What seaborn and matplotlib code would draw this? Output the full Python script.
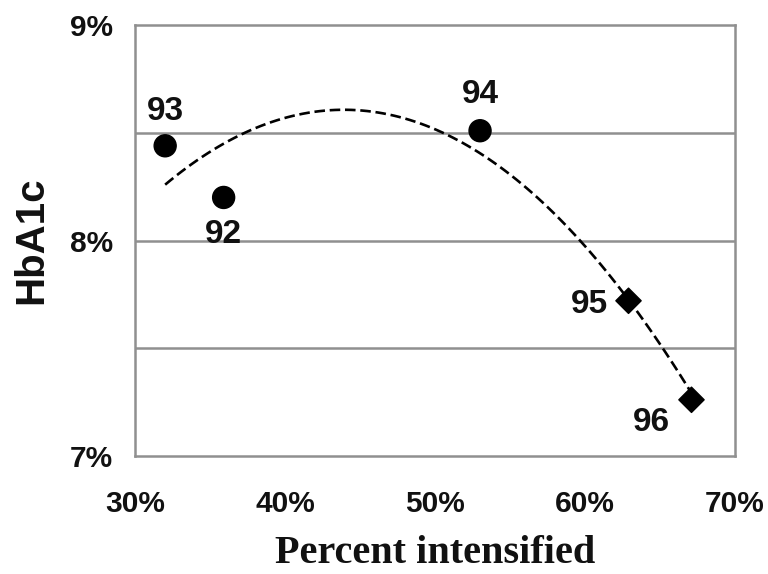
import matplotlib.pyplot as plt
import pandas as pd
import seaborn as sns

# values
years = ['93', '92', '94', '95', '96']
pct_intensified = [32.0, 35.9, 53.0, 62.9, 67.1]
hba1c = [8.44, 8.20, 8.51, 7.72, 7.26]
shape = ['circle', 'circle', 'circle', 'diamond', 'diamond']

df = pd.DataFrame({'year': years, 'pct': pct_intensified, 'hba1c': hba1c, 'shape': shape})

sns.set_style('white')
plt.rcParams['font.family'] = ['Liberation Sans', 'DejaVu Sans']

fig = plt.figure(figsize=(7.68, 5.74), dpi=100)
ax = fig.add_axes([0.176, 0.206, 0.781, 0.750])

# horizontal grid lines
for yv in [7.5, 8.0, 8.5]:
    ax.axhline(yv, color='#909090', lw=1.8, zorder=0)

# quadratic trend line
sns.regplot(data=df, x='pct', y='hba1c', order=2, ci=None, scatter=False, ax=ax,
            line_kws={'color': 'black', 'lw': 1.9, 'dashes': (4, 1.8)})

sns.scatterplot(data=df, x='pct', y='hba1c', style='shape', markers={'circle': 'o', 'diamond': 'D'},
                size='shape', sizes={'circle': 250, 'diamond': 165}, color='black',
                edgecolor='black', legend=False, ax=ax, zorder=3)

# point labels
offsets = {'93': (0, 25), '92': (0, -27), '94': (0, 26), '95': (-28, -3), '96': (-29, -16)}
for _, row in df.iterrows():
    dx, dy = offsets[row['year']]
    ax.annotate(row['year'], (row['pct'], row['hba1c']), xytext=(dx, dy), textcoords='offset points',
                ha='center', va='center', fontsize=24, fontweight='bold', color='#111111')

ax.set_xlim(30, 70)
ax.set_ylim(7, 9)
ax.set_xticks([30, 40, 50, 60, 70])
ax.set_xticklabels(['30%', '40%', '50%', '60%', '70%'], fontsize=21.5, fontweight='bold', color='#111111')
ax.set_yticks([7, 8, 9])
ax.set_yticklabels(['7%', '8%', '9%'], fontsize=21.5, fontweight='bold', color='#111111')
ax.tick_params(axis='x', direction='out', length=7, width=1.5, color='#909090', pad=18)
ax.tick_params(axis='y', length=0, pad=16)

for sp in ax.spines.values():
    sp.set_color('#909090')
    sp.set_linewidth(1.8)

ax.set_xlabel('Percent intensified', fontsize=29, fontweight='bold', family=['Liberation Serif'],
              labelpad=12, color='#111111')
ax.set_ylabel('HbA1c', fontsize=29, fontweight='bold', labelpad=14, color='#111111')

plt.savefig('out.png', dpi=100)
